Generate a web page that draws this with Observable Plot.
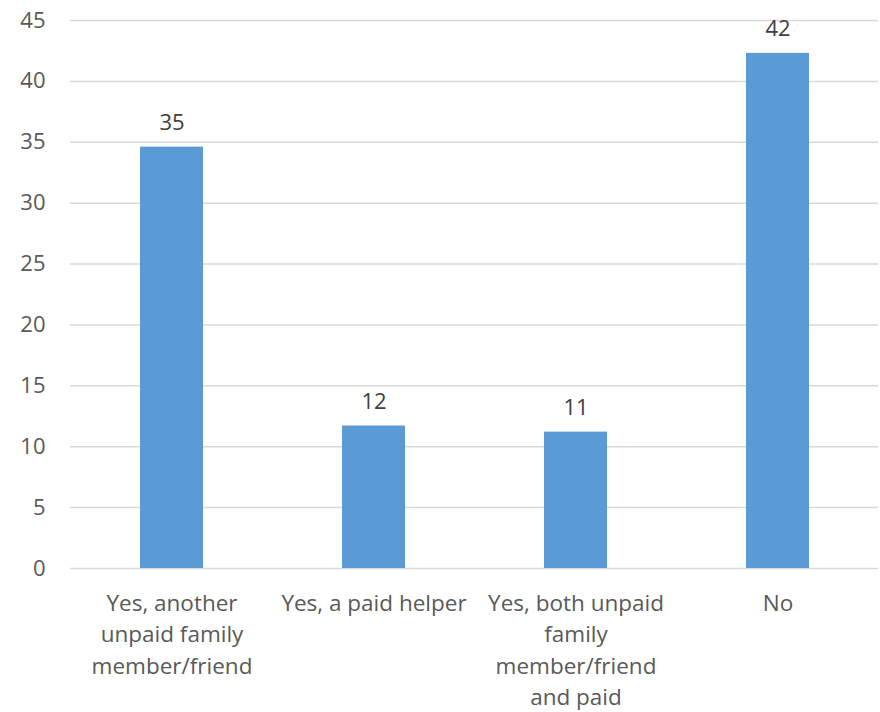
<!DOCTYPE html>
<html>
<head>
<meta charset="utf-8">
<script src="https://cdn.jsdelivr.net/npm/d3@7"></script>
<script src="https://cdn.jsdelivr.net/npm/@observablehq/plot@0.6"></script>
<style>
  html, body { margin: 0; padding: 0; background: #ffffff; }
  #chart { width: 880px; height: 712px; }
</style>
</head>
<body>
<div id="chart"></div>
<script>
const categories = ["another", "paid", "both", "no"];
const tickLabels = [
  "Yes, another\nunpaid family\nmember/friend",
  "Yes, a paid helper",
  "Yes, both unpaid\nfamily\nmember/friend\nand paid",
  "No"
];
const values = [34.6, 11.7, 11.2, 42.3];
const valueLabels = ["35", "12", "11", "42"];
const yTicks = [0, 5, 10, 15, 20, 25, 30, 35, 40, 45];

const data = categories.map((c, i) => ({category: c, value: values[i], label: valueLabels[i]}));
const tickMap = new Map(categories.map((c, i) => [c, tickLabels[i]]));

const chart = Plot.plot({
  width: 880,
  height: 712,
  marginLeft: 70,
  marginRight: 2,
  marginTop: 20,
  marginBottom: 144,
  style: {fontFamily: "'Open Sans', sans-serif", fontSize: "22px", color: "#595959", background: "#ffffff", overflow: "visible"},
  x: {domain: categories, paddingInner: 0.69, paddingOuter: 0.345, label: null},
  y: {domain: [0, 45], label: null},
  marks: [
    Plot.gridY(yTicks, {stroke: "#d9d9d9", strokeOpacity: 1, strokeWidth: 1.5}),
    Plot.barY(data, {x: "category", y: "value", fill: "#5b9bd5"}),
    Plot.text(data, {x: "category", y: "value", text: "label", dy: -24, fill: "#404040", fontSize: 22}),
    Plot.axisX({tickSize: 0, tickPadding: 20, tickFormat: d => tickMap.get(d), lineHeight: 1.4, fill: "#595959", fontSize: 22.5}),
    Plot.axisY({ticks: yTicks, tickSize: 0, tickPadding: 25, fill: "#595959", fontSize: 22})
  ]
});
document.getElementById("chart").appendChild(chart);
</script>
</body>
</html>
